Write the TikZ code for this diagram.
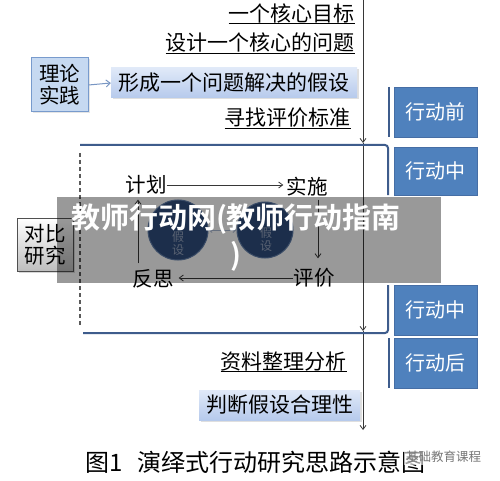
\documentclass[tikz,border=0pt]{standalone}
\usepackage{fontspec}
\setmainfont{Noto Sans CJK SC}
\newfontfamily\cjkbold{Noto Sans CJK SC Bold}
\usetikzlibrary{arrows.meta,shadows,calc}
\definecolor{actblue}{RGB}{79,129,189}
\definecolor{actedge}{RGB}{70,110,165}
\definecolor{brk}{RGB}{62,92,140}
\definecolor{lbtop}{RGB}{224,233,248}
\definecolor{lbbot}{RGB}{182,202,236}
\definecolor{circfill}{RGB}{48,78,125}
\definecolor{circedge}{RGB}{95,125,170}
\definecolor{lnk}{RGB}{55,55,55}
\tikzset{
  txt/.style={font=\fontsize{20.5}{22}\selectfont, inner sep=0pt},
  ultxt/.style={font=\fontsize{21}{22}\selectfont, inner sep=0pt, anchor=east},
  ulbar/.style={draw=black, line width=0.8pt},
  hypbox/.style={font=\fontsize{21}{22}\selectfont, inner sep=0pt, top color=lbtop, bottom color=lbbot, minimum height=30,
    drop shadow={opacity=0.25, shadow xshift=1.5pt, shadow yshift=-1.5pt}},
  actbox/.style={fill=actblue, draw=actedge, text=white, font=\fontsize{20}{22}\selectfont,
    minimum width=83, minimum height=50, inner sep=0pt},
  arr/.style={-{Straight Barb[length=4pt,width=6pt]}, draw=lnk, line width=0.8pt},
  brkline/.style={draw=brk, line width=2pt},
  circnode/.style={circle, fill=circfill, draw=circedge, line width=1pt, inner sep=0pt},
  circtxt/.style={text={rgb,255:red,150;green,165;blue,192}, font=\fontsize{12}{13}\selectfont, align=center, inner sep=0pt},
}
\begin{document}
\begin{tikzpicture}[x=1pt,y=-1pt]
\useasboundingbox (0,0) rectangle (500,481);
\fill[white] (0,0) rectangle (500,481);

% main vertical line
\coordinate (v0) at (363,0);
\coordinate (v1) at (363,143);
\coordinate (v2) at (363,331);
\coordinate (v3) at (363,430);
\draw[arr] (v0) -- (v1);
\draw[arr] (v1) -- (v2);
\draw[arr] (v2) -- (v3);

% top texts
\node[ultxt] (t1) at (355,13) {一个核心目标};
\draw[ulbar] (t1.south west) -- (t1.south east);
\node[ultxt] (t2) at (355,43) {设计一个核心的问题};
\draw[ulbar] (t2.south west) -- (t2.south east);
\node[hypbox, minimum width=246] (t3) at (234,83) {形成一个问题解决的假设};
\node[ultxt] (t4) at (351,118) {寻找评价标准};
\draw[ulbar] (t4.south west) -- (t4.south east);

% theory box
\node[txt, draw={rgb,255:red,120;green,155;blue,205}, line width=1pt,
  fill={rgb,255:red,198;green,217;blue,241}, minimum width=57, minimum height=54,
  align=center, drop shadow={opacity=0.2, shadow xshift=1.5pt, shadow yshift=-1.5pt}] (lilun) at (59.5,85) {理论\\实践};
\draw[-{Straight Barb[length=4pt,width=7pt]}, draw={rgb,255:red,120;green,150;blue,195}, line width=1pt] (lilun.east) -- (t3.west);

% bracket
\draw[brkline, rounded corners=3] (80,145) -| (388,195);
\draw[brkline, rounded corners=3] (83,333) -| (388,285);
\draw[brkline] (389,87) -- (389,137);
\draw[brkline] (389,338) -- (389,388);
\draw[draw={rgb,255:red,90;green,90;blue,90}, line width=1.4pt, dash pattern=on 4pt off 3pt] (80,153) -- (80,325);

% action boxes
\node[actbox] (b1) at (435.5,112) {行动前};
\node[actbox, minimum height=48] (b2) at (435.5,171) {行动中};
\node[actbox] (b3) at (435.5,310) {行动中};
\node[actbox] (b4) at (435.5,363) {行动后};

% compare box
\node[txt, draw={rgb,255:red,80;green,80;blue,80}, line width=1pt,
  top color=white, bottom color={rgb,255:red,190;green,190;blue,190},
  minimum width=56, minimum height=53, align=center,
  drop shadow={opacity=0.3, shadow xshift=2pt, shadow yshift=-2pt}] (duibi) at (45,244.5) {对比\\研究};

% circles
\node[circnode, minimum size=60] (c1) at (178,230) {};
\node[circnode, minimum size=56] (c2) at (265,230) {};
\node[circtxt] (c1t) at (178,243) {假\\设};
\node[circtxt] (c2t) at (266,239) {假\\设};
\draw[{Straight Barb[length=3pt,width=5pt]}-{Straight Barb[length=3pt,width=5pt]}, draw={rgb,255:red,170;green,185;blue,210}, line width=0.8pt] (c1.east) -- (c2.west);

% cycle
\node[txt] (jh) at (146,185) {计划};
\node[txt] (ss) at (307,187) {实施};
\node[txt] (pj) at (314,278) {评价};
\node[txt] (fs) at (153,279) {反思};
\draw[arr] (jh.east) -- ($(jh.east -| ss.west)+(-3,0)$);
\coordinate (a1) at ($(ss.south)+(11,3)$);
\draw[arr] (a1) -- ($(a1 |- pj.north)+(0,-10)$);
\draw[arr] (pj.west) -- ($(pj.west -| fs.east)+(5,0)$);
\coordinate (a3) at ($(fs.north)+(-15,-6)$);
\draw[arr] (a3) -- ($(a3 |- jh.south)+(0,5)$);

% bottom texts
\node[ultxt] (t5) at (347,362) {资料整理分析};
\draw[ulbar] (t5.south west) -- (t5.south east);
\node[hypbox, minimum width=161] (t6) at (279.5,405) {判断假设合理性};

% caption
\node[anchor=west, inner sep=0pt, font=\fontsize{24}{26}\selectfont] (cap) at (85,462) {图1\hspace{15pt}演绎式行动研究思路示意图};
\node[anchor=west, inner sep=2pt, fill=white, fill opacity=0.6, text opacity=1,
  text={rgb,255:red,120;green,120;blue,120}, font=\fontsize{12.5}{13}\selectfont] (wm) at (404,457) {基础教育课程};

% overlay banner
\fill[black, opacity=0.4] (57,197) rectangle (441,283);
\node[text=white, font=\cjkbold\fontsize{29}{37}\selectfont, align=center, inner sep=0pt] (banner) at (236,238) {教师行动网(教师行动指南\\)};
\end{tikzpicture}
\end{document}
